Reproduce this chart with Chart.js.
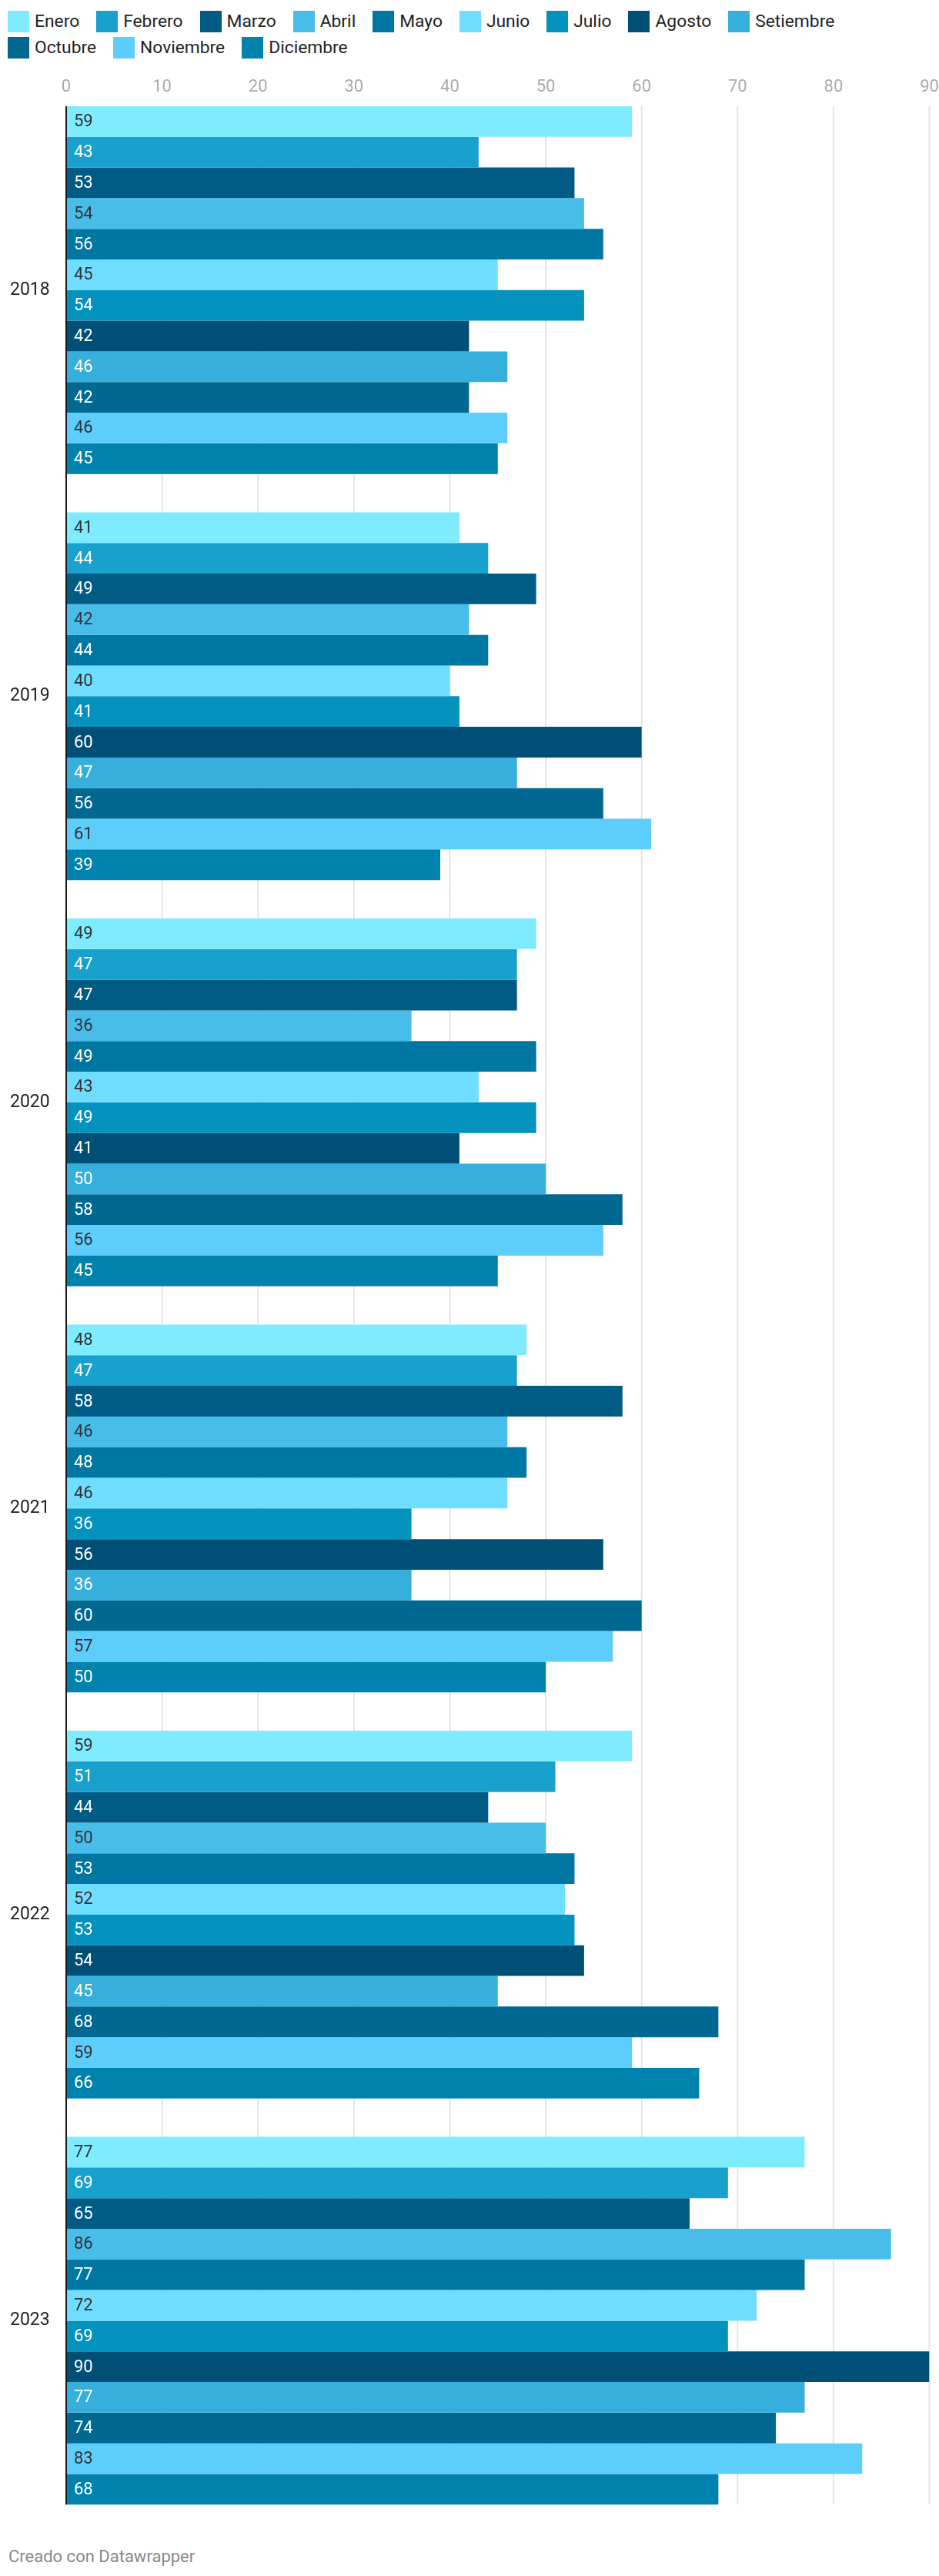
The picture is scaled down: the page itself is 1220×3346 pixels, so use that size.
<!DOCTYPE html>
<html lang="es">
<head>
<meta charset="utf-8">
<title>Datawrapper</title>
<script src="https://cdn.jsdelivr.net/npm/chart.js@4/dist/chart.umd.min.js"></script>
<style>
  html, body { margin: 0; padding: 0; background: #fff; }
  body { width: 1220px; height: 3346px; position: relative; font-family: Roboto, 'Noto Sans', sans-serif; }
  #leyenda {
    position: absolute; top: 14px; left: 10px; width: 1200px;
    display: flex; flex-wrap: wrap; row-gap: 6px;
  }
  .item { display: flex; align-items: center; margin-right: 22px; height: 28px; }
  .caja { width: 28px; height: 28px; margin-right: 7px; }
  .texto { font-size: 22.8px; color: #222; line-height: 28px; }
  #grafico { position: absolute; top: 0; left: 0; width: 1220px; height: 3292px; }
  #pie {
    position: absolute; left: 11px; top: 3307px;
    font-size: 22px; color: #888; line-height: 28px;
  }
</style>
</head>
<body>
<div id="leyenda"></div>
<div id="grafico"><canvas id="chartMeses"></canvas></div>
<div id="pie">Creado con Datawrapper</div>

<script>
// ===== DATOS =====
const anios = ['2018', '2019', '2020', '2021', '2022', '2023'];
const meses = ['Enero', 'Febrero', 'Marzo', 'Abril', 'Mayo', 'Junio',
               'Julio', 'Agosto', 'Setiembre', 'Octubre', 'Noviembre', 'Diciembre'];

const enero     = [59, 41, 49, 48, 59, 77];
const febrero   = [43, 44, 47, 47, 51, 69];
const marzo     = [53, 49, 47, 58, 44, 65];
const abril     = [54, 42, 36, 46, 50, 86];
const mayo      = [56, 44, 49, 48, 53, 77];
const junio     = [45, 40, 43, 46, 52, 72];
const julio     = [54, 41, 49, 36, 53, 69];
const agosto    = [42, 60, 41, 56, 54, 90];
const setiembre = [46, 47, 50, 36, 45, 77];
const octubre   = [42, 56, 58, 60, 68, 74];
const noviembre = [46, 61, 56, 57, 59, 83];
const diciembre = [45, 39, 45, 50, 66, 68];

const ticksX = [0, 10, 20, 30, 40, 50, 60, 70, 80, 90];

// ===== ESTILO =====
const series  = [enero, febrero, marzo, abril, mayo, junio, julio, agosto, setiembre, octubre, noviembre, diciembre];
const colores = ['#7EEBFF', '#19A1CD', '#005B85', '#48BDEA', '#0076A2', '#6EDDFF',
                 '#0392BE', '#004F76', '#36AFDC', '#016991', '#5DCDFB', '#0082AF'];
// meses con barra clara llevan la etiqueta oscura
const claros  = ['Enero', 'Abril', 'Junio', 'Noviembre'];

const FUENTE = 'Roboto';

// ===== LEYENDA (HTML) =====
const leyenda = document.getElementById('leyenda');
meses.forEach((m, i) => {
  leyenda.innerHTML += `
    <div class="item">
      <span class="caja" style="background:${colores[i]}"></span>
      <span class="texto">${m}</span>
    </div>`;
});

// ===== PLUGINS =====
// extremos verticales de las barras (primera arriba, ultima abajo)
function extremos(chart) {
  const primera = chart.getDatasetMeta(0).data[0];
  const ultima  = chart.getDatasetMeta(series.length - 1).data[anios.length - 1];
  return [primera.y - primera.height / 2, ultima.y + ultima.height / 2];
}

// rejilla vertical + etiquetas del eje X, solo entre la primera y la ultima barra
const rejilla = {
  id: 'rejilla',
  beforeDatasetsDraw(chart) {
    const { ctx, scales: { x } } = chart;
    const [y0, y1] = extremos(chart);
    ctx.save();
    ctx.strokeStyle = '#e5e5e5';
    ctx.lineWidth = 2;
    ctx.fillStyle = '#aaa';
    ctx.font = `22px ${FUENTE}`;
    ctx.textAlign = 'center';
    ctx.textBaseline = 'middle';
    ticksX.forEach(v => {
      const px = x.getPixelForValue(v);
      ctx.fillText(v, px, y0 - 24);
      if (v === 0) return;
      ctx.beginPath();
      ctx.moveTo(px, y0);
      ctx.lineTo(px, y1);
      ctx.stroke();
    });
    ctx.restore();
  },
  afterDatasetsDraw(chart) {
    const { ctx, scales: { x } } = chart;
    const [y0, y1] = extremos(chart);
    const px = x.getPixelForValue(0);
    ctx.save();
    ctx.strokeStyle = '#1a1a1a';
    ctx.lineWidth = 2;
    ctx.beginPath();
    ctx.moveTo(px, y0);
    ctx.lineTo(px, y1);
    ctx.stroke();
    ctx.restore();
  }
};

// valores dentro de cada barra
const etiquetas = {
  id: 'etiquetas',
  afterDatasetsDraw(chart) {
    const { ctx } = chart;
    ctx.save();
    ctx.font = `22px ${FUENTE}`;
    ctx.textAlign = 'left';
    ctx.textBaseline = 'middle';
    chart.data.datasets.forEach((ds, i) => {
      ctx.fillStyle = claros.includes(ds.label) ? '#333' : '#fff';
      chart.getDatasetMeta(i).data.forEach((bar, j) => {
        ctx.fillText(ds.data[j], bar.base + 10, bar.y + 1);
      });
    });
    ctx.restore();
  }
};

// ===== CHART.JS =====
function initChart() {
  const ctx = document.getElementById('chartMeses').getContext('2d');

  new Chart(ctx, {
    type: 'bar',
    data: {
      labels: anios,
      datasets: meses.map((m, i) => ({
        label: m,
        data: series[i],
        backgroundColor: colores[i],
        borderWidth: 0,
        barPercentage: 1,
        categoryPercentage: 480 / 530
      }))
    },
    options: {
      indexAxis: 'y',
      responsive: true,
      maintainAspectRatio: false,
      animation: false,
      layout: { padding: { top: 113, left: 13, right: 12.5, bottom: 0 } },
      plugins: { legend: { display: false }, tooltip: { enabled: false } },
      scales: {
        x: {
          position: 'top',
          min: 0, max: 90,
          afterBuildTicks: s => { s.ticks = ticksX.map(v => ({ value: v })); },
          grid: { display: false, drawTicks: false },
          border: { display: false },
          ticks: { display: false }
        },
        y: {
          grid: { display: false, drawTicks: false },
          border: { display: false },
          afterFit: s => { s.width = 73; },
          ticks: { color: '#222', crossAlign: 'far', padding: 0, font: { family: FUENTE, size: 23 } }
        }
      }
    },
    plugins: [rejilla, etiquetas]
  });
}

initChart();
</script>
</body>
</html>
